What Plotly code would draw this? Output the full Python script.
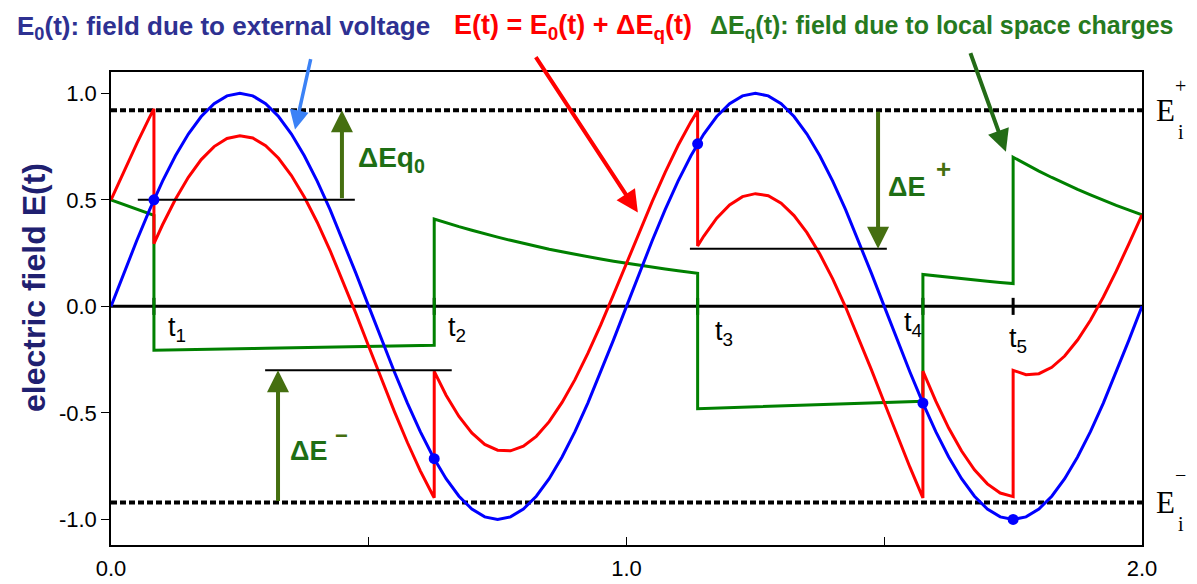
import plotly.graph_objects as go

# ---------------- data ----------------
# time samples; jump instants appear twice (before / after the jump)
T = [
    0, 0.025, 0.05, 0.075, 0.0833,
    0.0833, 0.1, 0.125, 0.15, 0.175, 0.2, 0.225, 0.25, 0.275, 0.3, 0.325, 0.35, 0.375, 0.4,
    0.425, 0.45, 0.475, 0.5, 0.525, 0.55, 0.575, 0.6, 0.625, 0.627,
    0.627, 0.65, 0.675, 0.7, 0.725, 0.75, 0.775, 0.8, 0.825, 0.85, 0.875, 0.9, 0.925, 0.95,
    0.975, 1.0, 1.025, 1.05, 1.075, 1.1, 1.125, 1.138,
    1.138, 1.15, 1.175, 1.2, 1.225, 1.25, 1.275, 1.3, 1.325, 1.35, 1.375, 1.4, 1.425, 1.45,
    1.475, 1.5, 1.525, 1.55, 1.575,
    1.575, 1.6, 1.625, 1.65, 1.675, 1.7, 1.725, 1.75,
    1.75, 1.775, 1.8, 1.825, 1.85, 1.875, 1.9, 1.925, 1.95, 1.975, 2.0,
]
# E0(t): field due to external voltage (blue)
E0 = [
    0, .156, .309, .454, .5,
    .5, .588, .707, .809, .891, .951, .988, 1, .988, .951, .891, .809, .707, .588,
    .454, .309, .156, 0, -.156, -.309, -.454, -.588, -.707, -.715,
    -.715, -.809, -.891, -.951, -.988, -1, -.988, -.951, -.891, -.809, -.707, -.588, -.454, -.309,
    -.156, 0, .156, .309, .454, .588, .707, .763,
    .763, .809, .891, .951, .988, 1, .988, .951, .891, .809, .707, .588, .454, .309,
    .156, 0, -.156, -.309, -.454,
    -.454, -.588, -.707, -.809, -.891, -.951, -.988, -1,
    -1, -.988, -.951, -.891, -.809, -.707, -.588, -.454, -.309, -.156, 0,
]
# dEq(t): field due to local space charges (green)
DEQ = [
    .5, .477, .455, .434, .427,
    -.206, -.205, -.204, -.203, -.202, -.201, -.200, -.199, -.198, -.197, -.196, -.195, -.194, -.193,
    -.192, -.191, -.189, -.188, -.187, -.186, -.185, -.184, -.183, -.183,
    .41, .392, .374, .357, .340, .325, .310, .295, .281, .268, .256, .244, .233, .222,
    .212, .202, .193, .184, .175, .167, .159, .155,
    -.48, -.479, -.477, -.475, -.473, -.471, -.469, -.467, -.465, -.463, -.461, -.459, -.457, -.455,
    -.453, -.451, -.449, -.447, -.445,
    .15, .143, .136, .130, .124, .118, .112, .107,
    .70, .667, .635, .605, .576, .549, .523, .498, .474, .452, .43,
]
assert len(T) == len(E0) == len(DEQ)

EVENT_T = [0.0833, 0.627, 1.138, 1.575, 1.75]
EVENT_E0 = [0.5, -0.715, 0.763, -0.454, -1.0]
EVENT_LABELS = ["t<sub>1</sub>", "t<sub>2</sub>", "t<sub>3</sub>", "t<sub>4</sub>", "t<sub>5</sub>"]
EVENT_LABEL_POS = [(0.128, -0.108), (0.671, -0.108), (1.189, -0.123), (1.556, -0.085), (1.759, -0.156)]

E_I_PLUS = 0.92
E_I_MINUS = -0.92

# reference (black) levels: t_start, t_end, level
REF_T0 = [0.052, 1.123, 0.299]
REF_T1 = [0.473, 1.505, 0.661]
REF_LEVEL = [0.5, 0.27, -0.30]

# olive arrows: t, from-level, to-level
ARROW_T = [0.448, 1.488, 0.324]
ARROW_FROM = [0.5, E_I_PLUS, E_I_MINUS]
ARROW_TO = [E_I_PLUS, 0.27, -0.30]

X_TICKS = [0, 0.5, 1.0, 1.5, 2.0]
X_TICKTEXT = ["0.0", "", "1.0", "", "2.0"]
Y_TICKS = [-1.0, -0.5, 0.0, 0.5, 1.0]
Y_TICKTEXT = ["-1.0", "-0.5", "0.0", "0.5", "1.0"]

# red = E0 + dEq
E_TOTAL = [a + b for a, b in zip(E0, DEQ)]

# ---------------- figure ----------------
SANS = "Liberation Sans, Arial, sans-serif"
SERIF = "Liberation Serif, Times New Roman, serif"
BLUE = "#0000ff"
RED = "#ff0000"
GREEN = "#008000"
OLIVE = "#456f10"
DKGREEN = "#1e6e14"

L, R, TOP, B = 111, 55, 72, 39
W, H = 1197, 584
PW, PH = W - L - R, H - TOP - B


def px_x(px):
    return (px - L) / PW


def px_y(py):
    return (H - B - py) / PH


fig = go.Figure()

# zero line
fig.add_trace(go.Scatter(x=[0, 2], y=[0, 0], mode="lines",
                         line=dict(color="black", width=3), hoverinfo="skip"))
# threshold dotted lines
for lev in (E_I_PLUS, E_I_MINUS):
    fig.add_trace(go.Scatter(x=[0, 2], y=[lev, lev], mode="lines",
                             line=dict(color="black", width=4, dash="6px,3px"), hoverinfo="skip"))
# event ticks on zero line
for te in EVENT_T:
    fig.add_trace(go.Scatter(x=[te, te], y=[-0.04, 0.04], mode="lines",
                             line=dict(color="black", width=3), hoverinfo="skip"))

fig.add_trace(go.Scatter(x=T, y=DEQ, mode="lines", line=dict(color=GREEN, width=3)))
fig.add_trace(go.Scatter(x=T, y=E_TOTAL, mode="lines", line=dict(color=RED, width=3)))
fig.add_trace(go.Scatter(x=T, y=E0, mode="lines", line=dict(color=BLUE, width=3)))

# reference black levels
for t0, t1, lev in zip(REF_T0, REF_T1, REF_LEVEL):
    fig.add_trace(go.Scatter(x=[t0, t1], y=[lev, lev], mode="lines",
                             line=dict(color="black", width=2), hoverinfo="skip"))

fig.add_trace(go.Scatter(x=EVENT_T, y=EVENT_E0, mode="markers",
                         marker=dict(color=BLUE, size=11)))

ann = []
# olive arrows
for t, a, b in zip(ARROW_T, ARROW_FROM, ARROW_TO):
    ann.append(dict(x=t, y=b, ax=t, ay=a, xref="x", yref="y", axref="x", ayref="y",
                    showarrow=True, arrowhead=2, arrowsize=1.1, arrowwidth=4,
                    arrowcolor=OLIVE, standoff=0, text=""))

# event labels
for lab, (lx, ly) in zip(EVENT_LABELS, EVENT_LABEL_POS):
    ann.append(dict(x=lx, y=ly, xref="x", yref="y", text=lab, showarrow=False,
                    font=dict(family=SANS, size=27, color="black")))

# delta labels
ann.append(dict(x=0.476, y=0.69, xref="x", yref="y", text="<b>ΔEq<sub>0</sub></b>", showarrow=False,
                xanchor="left", font=dict(family=SANS, size=28, color=DKGREEN)))
ann.append(dict(x=1.503, y=0.56, xref="x", yref="y", text="<b>ΔE</b>", showarrow=False,
                xanchor="left", font=dict(family=SANS, size=27, color=DKGREEN)))
ann.append(dict(x=1.614, y=0.645, xref="x", yref="y", text="<b>+</b>", showarrow=False,
                font=dict(family=SANS, size=26, color=OLIVE)))
ann.append(dict(x=0.343, y=-0.68, xref="x", yref="y", text="<b>ΔE</b>", showarrow=False,
                xanchor="left", font=dict(family=SANS, size=27, color=DKGREEN)))
ann.append(dict(x=0.448, y=-0.605, xref="x", yref="y", text="<b>−</b>", showarrow=False,
                font=dict(family=SANS, size=22, color=OLIVE)))

# E_i labels
for lev, sign, dsup in ((E_I_PLUS, "+", 0.115), (E_I_MINUS, "−", 0.13)):
    ann.append(dict(x=px_x(1154), y=lev, xref="paper", yref="y", text="E", showarrow=False,
                    xanchor="left", yanchor="middle", font=dict(family=SERIF, size=31, color="black")))
    ann.append(dict(x=px_x(1188), y=lev + dsup, xref="paper", yref="y", text=sign, showarrow=False,
                    font=dict(family=SERIF, size=20, color="black")))
    ann.append(dict(x=px_x(1186), y=lev - 0.10, xref="paper", yref="y", text="i", showarrow=False,
                    font=dict(family=SERIF, size=20, color="black")))

# top titles
ann.append(dict(x=px_x(15), y=px_y(27), xref="paper", yref="paper", xanchor="left", yanchor="middle",
                text="<b>E<sub>0</sub>(t): field due to external voltage</b>", showarrow=False,
                font=dict(family=SANS, size=26, color="#2e3192")))
ann.append(dict(x=px_x(452), y=px_y(27), xref="paper", yref="paper", xanchor="left", yanchor="middle",
                text="<b>E(t) = E<sub>0</sub>(t) + ΔE<sub>q</sub>(t)</b>", showarrow=False,
                font=dict(family=SANS, size=27, color=RED)))
ann.append(dict(x=px_x(708), y=px_y(27), xref="paper", yref="paper", xanchor="left", yanchor="middle",
                text="<b>ΔE<sub>q</sub>(t): field due to local space charges</b>", showarrow=False,
                font=dict(family=SANS, size=25, color="#267a1e")))

# title arrows (pixel offsets from head)
ann.append(dict(x=0.357, y=0.83, xref="x", yref="y", ax=16, ay=-72, axref="pixel", ayref="pixel",
                showarrow=True, arrowhead=2, arrowsize=1.1, arrowwidth=3.5, arrowcolor="#3b82f6",
                standoff=0, text=""))
ann.append(dict(x=1.022, y=0.44, xref="x", yref="y", ax=-103, ay=-157, axref="pixel", ayref="pixel",
                showarrow=True, arrowhead=2, arrowsize=1.1, arrowwidth=4, arrowcolor=RED,
                standoff=0, text=""))
ann.append(dict(x=1.736, y=0.726, xref="x", yref="y", ax=-36, ay=-100, axref="pixel", ayref="pixel",
                showarrow=True, arrowhead=2, arrowsize=1.1, arrowwidth=4, arrowcolor="#236b16",
                standoff=0, text=""))

# y-axis title
ann.append(dict(x=px_x(14), y=px_y(288), xref="paper", yref="paper", textangle=-90,
                text="<b>electric field E(t)</b>", showarrow=False,
                font=dict(family=SANS, size=32, color="#1f2070")))

fig.update_layout(
    width=W, height=H, margin=dict(l=L, r=R, t=TOP, b=B, autoexpand=False),
    plot_bgcolor="white", paper_bgcolor="white", showlegend=False,
    annotations=ann,
    xaxis=dict(range=[0, 2], tickvals=X_TICKS, ticktext=X_TICKTEXT, ticks="inside", ticklen=8,
               tickcolor="black", showline=True, mirror=True, linecolor="black", linewidth=1.5,
               showgrid=False, zeroline=False, ticklabelstandoff=3, automargin=False,
               tickfont=dict(family=SANS, size=22, color="black")),
    yaxis=dict(range=[-1.12, 1.1], tickvals=Y_TICKS, ticktext=Y_TICKTEXT, ticks="outside", ticklen=8,
               tickcolor="black", showline=True, mirror=True, linecolor="black", linewidth=1.5,
               showgrid=False, zeroline=False, automargin=False,
               tickfont=dict(family=SANS, size=22, color="black")),
)

fig.write_html("out.html")
